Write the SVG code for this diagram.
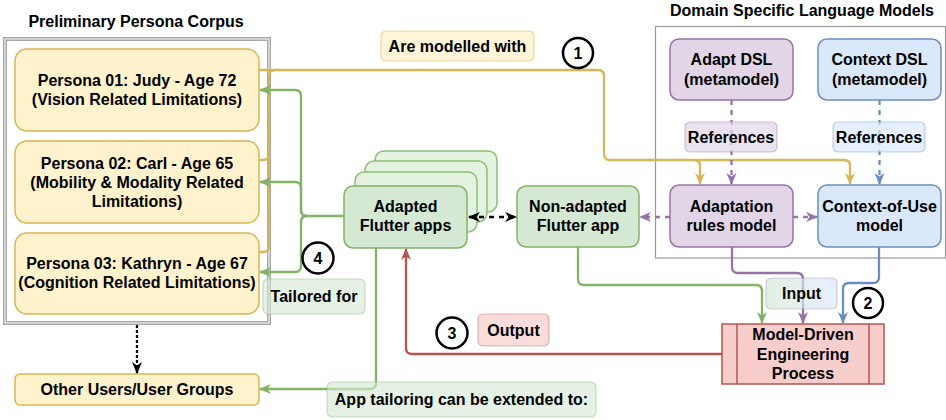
<svg xmlns="http://www.w3.org/2000/svg" width="946" height="420" viewBox="0 0 946 420">
<defs>
<style>
text{font-family:"Liberation Sans",Arial,sans-serif;font-weight:bold;font-size:16px;fill:#000;text-anchor:middle}
.persona{fill:#fff2cc;stroke:#d6b656;stroke-width:1.5}
.green{fill:#d5e8d4;stroke:#82b366;stroke-width:1.5}
.greenback{fill:#e3f3df;stroke:#8fbf79;stroke-width:1.5}
.purple{fill:#e1d5e7;stroke:#9673a6;stroke-width:1.5}
.blue{fill:#dae8fc;stroke:#6c8ebf;stroke-width:1.5}
.red{fill:#f8cecc;stroke:#b85450;stroke-width:1.5}
.lbl{stroke-width:1.2}
.num{fill:#fff;stroke:#000;stroke-width:2.5}
.c{fill:none;stroke-width:2.3}
.cy{stroke:#d6b656}
.cg{stroke:#82b366}
.cp{stroke:#9673a6}
.cb{stroke:#6c8ebf}
.cr{stroke:#b85450}
.ck{stroke:#000}
</style>
<marker id="ay" viewBox="0 0 12 10" refX="11" refY="5" markerWidth="12" markerHeight="10" markerUnits="userSpaceOnUse" orient="auto"><path d="M0,0 L12,5 L0,10 L3.5,5 z" fill="#d6b656"/></marker>
<marker id="ag" viewBox="0 0 12 10" refX="11" refY="5" markerWidth="12" markerHeight="10" markerUnits="userSpaceOnUse" orient="auto"><path d="M0,0 L12,5 L0,10 L3.5,5 z" fill="#82b366"/></marker>
<marker id="ap" viewBox="0 0 12 10" refX="11" refY="5" markerWidth="12" markerHeight="10" markerUnits="userSpaceOnUse" orient="auto"><path d="M0,0 L12,5 L0,10 L3.5,5 z" fill="#9673a6"/></marker>
<marker id="ab" viewBox="0 0 12 10" refX="11" refY="5" markerWidth="12" markerHeight="10" markerUnits="userSpaceOnUse" orient="auto"><path d="M0,0 L12,5 L0,10 L3.5,5 z" fill="#6c8ebf"/></marker>
<marker id="ar" viewBox="0 0 12 10" refX="11" refY="5" markerWidth="12" markerHeight="10" markerUnits="userSpaceOnUse" orient="auto"><path d="M0,0 L12,5 L0,10 L3.5,5 z" fill="#b85450"/></marker>
<marker id="ak" viewBox="0 0 12 10" refX="11" refY="5" markerWidth="12" markerHeight="10" markerUnits="userSpaceOnUse" orient="auto"><path d="M0,0 L12,5 L0,10 L3.5,5 z" fill="#000"/></marker>
<marker id="aks" viewBox="0 0 12 10" refX="11" refY="5" markerWidth="12" markerHeight="10" markerUnits="userSpaceOnUse" orient="auto-start-reverse"><path d="M0,0 L12,5 L0,10 L3.5,5 z" fill="#000"/></marker>
<linearGradient id="ginput" x1="0" y1="0" x2="1" y2="0"><stop offset="0" stop-color="#d5e8d4"/><stop offset="1" stop-color="#dae8fc"/></linearGradient>
</defs>
<rect width="946" height="420" fill="#fff"/>

<g id="persona-corpus">
<text x="136" y="27">Preliminary Persona Corpus</text>
<rect x="5" y="39" width="264" height="284" fill="none" stroke="#a8a8a8" stroke-width="4"/>
<rect x="5" y="39" width="264" height="284" fill="none" stroke="#eeeeee" stroke-width="1.2"/>
</g>

<g id="dsl-container">
<text x="802" y="16">Domain Specific Language Models</text>
<rect x="655.5" y="26.5" width="290" height="231.5" fill="none" stroke="#999" stroke-width="1.2"/>
</g>

<g id="persona01">
<rect class="persona" x="15" y="49" width="244" height="82" rx="12"/>
<text x="137" y="86">Persona 01: Judy - Age 72</text>
<text x="137" y="105">(Vision Related Limitations)</text>
</g>
<g id="persona02">
<rect class="persona" x="15" y="141" width="244" height="82" rx="12"/>
<text x="137" y="168.5">Persona 02: Carl - Age 65</text>
<text x="137" y="187.5">(Mobility &amp; Modality Related</text>
<text x="137" y="206.5">Limitations)</text>
</g>
<g id="persona03">
<rect class="persona" x="15" y="233" width="244" height="81" rx="12"/>
<text x="137" y="269">Persona 03: Kathryn - Age 67</text>
<text x="137" y="288">(Cognition Related Limitations)</text>
</g>
<g id="other-users">
<rect class="persona" x="15" y="374" width="244" height="31" rx="5"/>
<text x="137" y="395">Other Users/User Groups</text>
</g>

<g id="adapted-apps">
<rect class="greenback" x="375" y="151" width="122" height="61" rx="9"/>
<rect class="greenback" x="365" y="161" width="122" height="61" rx="9"/>
<rect class="greenback" x="355" y="172" width="122" height="60" rx="9"/>
<rect class="green" x="344" y="186" width="123" height="62" rx="9"/>
<text x="405.5" y="211.5">Adapted</text>
<text x="405.5" y="231">Flutter apps</text>
</g>
<g id="non-adapted-app">
<rect class="green" x="517" y="186" width="122" height="61" rx="9"/>
<text x="578" y="211.5">Non-adapted</text>
<text x="578" y="231">Flutter app</text>
</g>

<g id="adapt-dsl">
<rect class="purple" x="670" y="39" width="123" height="61" rx="9"/>
<text x="731.5" y="65">Adapt DSL</text>
<text x="731.5" y="84.5">(metamodel)</text>
</g>
<g id="context-dsl">
<rect class="blue" x="818" y="39" width="123" height="61" rx="9"/>
<text x="879.5" y="65">Context DSL</text>
<text x="879.5" y="84.5">(metamodel)</text>
</g>
<g id="adaptation-rules">
<rect class="purple" x="670" y="185" width="123" height="62" rx="9"/>
<text x="731.5" y="211.5">Adaptation</text>
<text x="731.5" y="231">rules model</text>
</g>
<g id="context-of-use">
<rect class="blue" x="818" y="185" width="123" height="62" rx="9"/>
<text x="879.5" y="211.5">Context-of-Use</text>
<text x="879.5" y="231">model</text>
</g>
<g id="mde-process">
<rect class="red" x="722" y="324" width="162" height="60"/>
<line x1="737" y1="324" x2="737" y2="384" stroke="#b85450" stroke-width="1.5"/>
<line x1="869" y1="324" x2="869" y2="384" stroke="#b85450" stroke-width="1.5"/>
<text x="803" y="340">Model-Driven</text>
<text x="803" y="359.5">Engineering</text>
<text x="803" y="378.5">Process</text>
</g>

<g id="connectors">
<path class="c cy" d="M259,70 H598 Q604,70 604,76 V154 Q604,160 610,160 H694 Q700,160 700,166 V184" marker-end="url(#ay)"/>
<path class="c cy" d="M694,160 H844 Q850,160 850,166 V184" marker-end="url(#ay)"/>
<path class="c cy" d="M259,252 H263 Q269,252 269,246 V76 Q269,70 275,70"/>
<path class="c cy" d="M259,160 H263 Q269,160 269,154"/>
<path class="c cg" d="M344,216 H307 Q301,216 301,210 V96 Q301,90 295,90 H260" marker-end="url(#ag)"/>
<path class="c cg" d="M307,216 Q301,216 301,210 V188 Q301,182 295,182 H260" marker-end="url(#ag)"/>
<path class="c cg" d="M307,216 Q301,216 301,222 V266 Q301,272 295,272 H260" marker-end="url(#ag)"/>
<path class="c cg" d="M376,248 V383 Q376,389 370,389 H260" marker-end="url(#ag)"/>
<path class="c ck" d="M137,325 V373" stroke-width="2.5" stroke-dasharray="3 2" marker-end="url(#ak)"/>
<path class="c ck" d="M469,217 H516" stroke-dasharray="5 5" marker-start="url(#aks)" marker-end="url(#ak)"/>
<path class="c cp" d="M731.5,100 V184" stroke-dasharray="5 5" marker-end="url(#ap)"/>
<path class="c cb" d="M879.5,100 V184" stroke-dasharray="5 5" marker-end="url(#ab)"/>
<path class="c cp" d="M670,217 H640" stroke-dasharray="5 5" marker-end="url(#ap)"/>
<path class="c cp" d="M793,217 H817" stroke-dasharray="5 5" marker-end="url(#ap)"/>
<path class="c cg" d="M578,247 V279 Q578,285 584,285 H756 Q762,285 762,291 V323" marker-end="url(#ag)"/>
<path class="c cp" d="M732,247 V267 Q732,273 738,273 H797 Q803,273 803,279 V323" marker-end="url(#ap)"/>
<path class="c cb" d="M879,247 V277 Q879,283 873,283 H849 Q843,283 843,289 V323" marker-end="url(#ab)"/>
<path class="c cr" d="M722,354 H412 Q406,354 406,348 V249" marker-end="url(#ar)"/>
</g>

<g id="labels">
<g id="lbl-modelled"><rect class="lbl" x="381" y="31" width="153" height="30" rx="5" fill="#fff2cc" fill-opacity="0.75" stroke="#d6b656" stroke-opacity="0.5"/><text x="457.5" y="51.5">Are modelled with</text></g>
<g id="lbl-ref-adapt"><rect class="lbl" x="685" y="122" width="92" height="30" rx="5" fill="#e1d5e7" fill-opacity="0.7" stroke="#9673a6" stroke-opacity="0.4"/><text x="731" y="142.5">References</text></g>
<g id="lbl-ref-context"><rect class="lbl" x="833" y="122" width="92" height="30" rx="5" fill="#dae8fc" fill-opacity="0.7" stroke="#6c8ebf" stroke-opacity="0.4"/><text x="879" y="142.5">References</text></g>
<g id="lbl-tailored"><rect class="lbl" x="263" y="279" width="102" height="35" rx="5" fill="#d5e8d4" fill-opacity="0.6" stroke="#82b366" stroke-opacity="0.4"/><text x="314" y="302">Tailored for</text></g>
<g id="lbl-input"><rect class="lbl" x="766" y="278" width="71" height="31" rx="5" fill="url(#ginput)" fill-opacity="0.65" stroke="#9673a6" stroke-opacity="0.35"/><text x="801.5" y="299">Input</text></g>
<g id="lbl-output"><rect class="lbl" x="478" y="314" width="71" height="32" rx="5" fill="#f8cecc" fill-opacity="0.7" stroke="#b85450" stroke-opacity="0.4"/><text x="513.5" y="335.5">Output</text></g>
<g id="lbl-extended"><rect class="lbl" x="327" y="382" width="269" height="35" rx="5" fill="#d5e8d4" fill-opacity="0.6" stroke="#82b366" stroke-opacity="0.4"/><text x="461.5" y="405">App tailoring can be extended to:</text></g>
</g>

<g id="numbers">
<g id="n1"><circle class="num" cx="578" cy="53" r="15"/><text x="578" y="59">1</text></g>
<g id="n2"><circle class="num" cx="868" cy="303" r="15"/><text x="868" y="309">2</text></g>
<g id="n3"><circle class="num" cx="452" cy="333" r="15.5"/><text x="452" y="339">3</text></g>
<g id="n4"><circle class="num" cx="318" cy="258" r="15.5"/><text x="318" y="264">4</text></g>
</g>
</svg>
